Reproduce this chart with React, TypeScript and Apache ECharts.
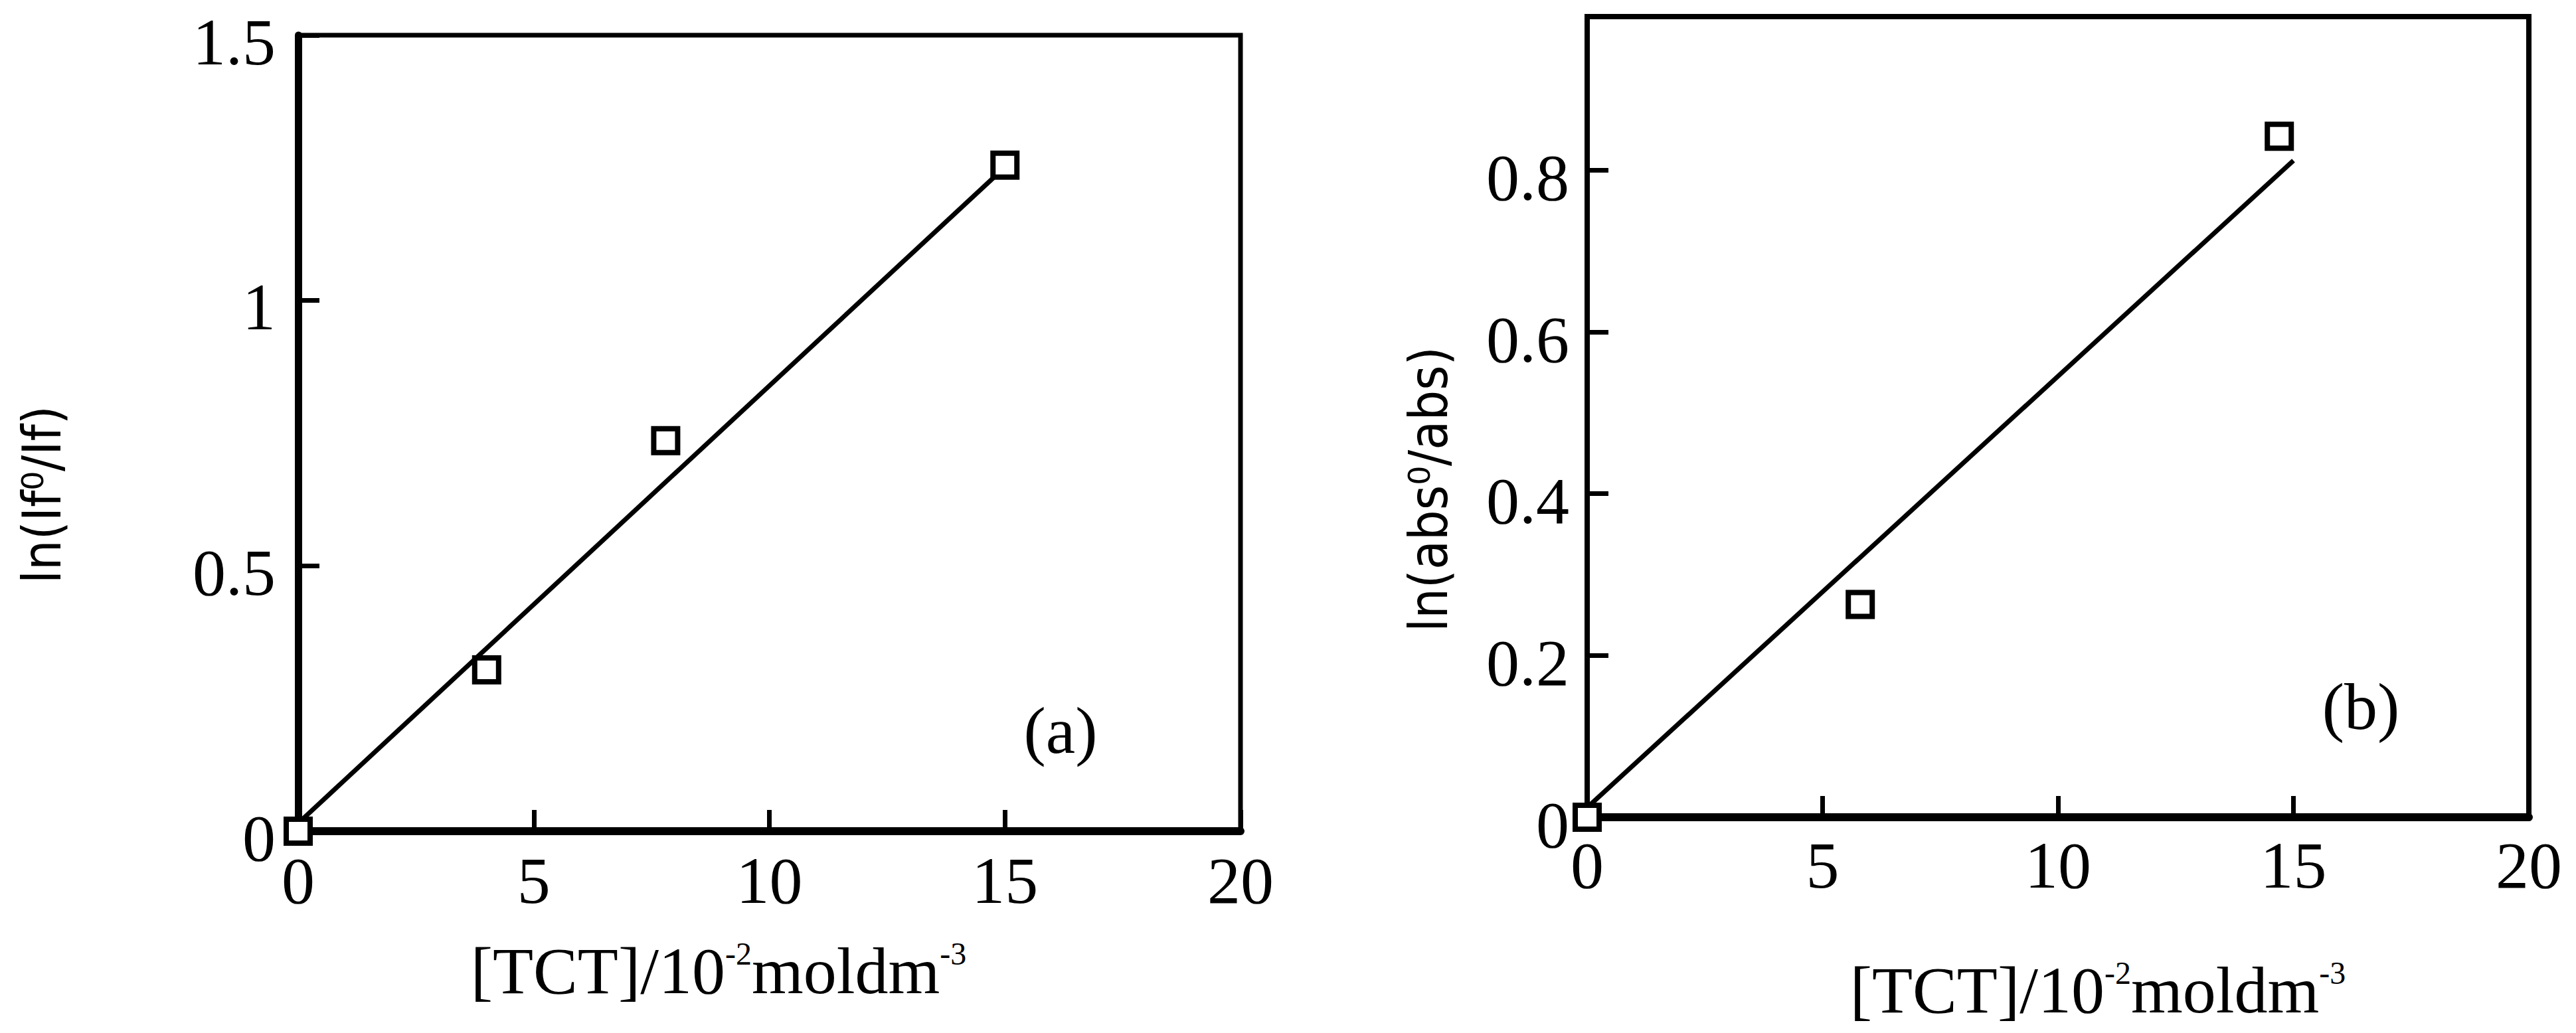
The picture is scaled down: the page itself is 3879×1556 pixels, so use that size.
import React, { useEffect, useRef } from "react";
import * as echarts from "echarts";

// Panel (a)
const aPoints: number[][] = [
  [0, 0],
  [4.0, 0.304],
  [7.8, 0.736],
  [15.0, 1.255],
];
const aFit: number[][] = [
  [0, 0.015],
  [14.8, 1.235],
];
// Panel (b)
const bPoints: number[][] = [
  [0, 0],
  [5.8, 0.263],
  [14.7, 0.842],
];
const bFit: number[][] = [
  [0, 0.012],
  [15.0, 0.812],
];

const xMin = 0;
const xMax = 20;
const xInterval = 5;
const aYMax = 1.5;
const aYInterval = 0.5;
const bYMax = 0.99;
const bYInterval = 0.2;

const aYName = "ln(If⁰/If)";
const bYName = "ln(abs⁰/abs)";
const xNameMain1 = "[TCT]/10";
const xNameSup1 = "-2";
const xNameMain2 = "moldm";
const xNameSup2 = "-3";
const aTag = "(a)";
const bTag = "(b)";

const SERIF = "'Liberation Serif', 'Times New Roman', serif";
const NAMEFONT = "'DejaVu Sans Condensed', 'DejaVu Sans', sans-serif";

export default function App() {
  const ref = useRef<HTMLDivElement>(null);

  useEffect(() => {
    if (!ref.current) return;
    const chart = echarts.init(ref.current, undefined, { renderer: "svg" });

    const xAxisBase = (gridIndex: number, margin: number) => ({
      type: "value",
      gridIndex,
      min: xMin,
      max: xMax,
      interval: xInterval,
      splitLine: { show: false },
      axisLine: { show: true, lineStyle: { color: "#000", width: 12 } },
      axisTick: { show: true, inside: true, length: 32, lineStyle: { color: "#000", width: 7 } },
      axisLabel: {
        margin,
        color: "#000",
        fontSize: 100,
        fontFamily: SERIF,
      },
    });

    const richX = {
      m: { fontSize: 100, fontFamily: SERIF, fill: "#000", color: "#000" },
      s: { fontSize: 48, fontFamily: SERIF, fill: "#000", color: "#000", verticalAlign: "top", padding: [0, 0, 46, 0] },
    };

    const option: any = {
      animation: false,
      backgroundColor: "#fff",
      grid: [
        { left: 449, top: 53, width: 1419, height: 1199, show: true, borderColor: "#000", borderWidth: 7, backgroundColor: "transparent" },
        { left: 2390, top: 25, width: 1418, height: 1206, show: true, borderColor: "#000", borderWidth: 8, backgroundColor: "transparent" },
      ],
      xAxis: [xAxisBase(0, 24), xAxisBase(1, 22)],
      yAxis: [
        {
          type: "value",
          gridIndex: 0,
          min: 0,
          max: aYMax,
          interval: aYInterval,
          splitLine: { show: false },
          axisLine: { show: true, lineStyle: { color: "#000", width: 11 } },
          axisTick: { show: true, inside: true, length: 32, lineStyle: { color: "#000", width: 7 } },
          axisLabel: {
            margin: 34,
            color: "#000",
            fontSize: 100,
            lineHeight: 20,
            verticalAlign: "top",
            fontFamily: SERIF,
          },
        },
        {
          type: "value",
          gridIndex: 1,
          min: 0,
          max: bYMax,
          interval: bYInterval,
          splitLine: { show: false },
          axisLine: { show: true, lineStyle: { color: "#000", width: 8 } },
          axisTick: { show: true, inside: true, length: 32, lineStyle: { color: "#000", width: 7 } },
          axisLabel: {
            margin: 27,
            color: "#000",
            fontSize: 100,
            lineHeight: 22,
            verticalAlign: "top",
            fontFamily: SERIF,
            formatter: (v: number) => (v > 0.9 ? "" : String(Math.round(v * 10) / 10)),
          },
        },
      ],
      series: [
        {
          type: "line",
          xAxisIndex: 0,
          yAxisIndex: 0,
          data: aFit,
          showSymbol: false,
          clip: false,
          lineStyle: { color: "#000", width: 7 },
          z: 3,
        },
        {
          type: "scatter",
          xAxisIndex: 0,
          yAxisIndex: 0,
          data: aPoints,
          symbol: "rect",
          symbolSize: 36,
          clip: false,
          itemStyle: { color: "#fff", borderColor: "#000", borderWidth: 8, opacity: 1 },
          z: 4,
        },
        {
          type: "line",
          xAxisIndex: 1,
          yAxisIndex: 1,
          data: bFit,
          showSymbol: false,
          clip: false,
          lineStyle: { color: "#000", width: 7 },
          z: 3,
        },
        {
          type: "scatter",
          xAxisIndex: 1,
          yAxisIndex: 1,
          data: bPoints,
          symbol: "rect",
          symbolSize: 36,
          clip: false,
          itemStyle: { color: "#fff", borderColor: "#000", borderWidth: 8, opacity: 1 },
          z: 4,
        },
      ],
      graphic: [
        {
          type: "text",
          x: 63,
          y: 745,
          rotation: Math.PI / 2,
          style: { text: aYName, fontSize: 80, fontFamily: NAMEFONT, fill: "#000", align: "center", verticalAlign: "middle" },
        },
        {
          type: "text",
          x: 2151,
          y: 737,
          rotation: Math.PI / 2,
          style: { text: bYName, fontSize: 80, fontFamily: NAMEFONT, fill: "#000", align: "center", verticalAlign: "middle" },
        },
        {
          type: "text",
          x: 1082,
          y: 1462,
          style: {
            text: `{m|${xNameMain1}}{s|${xNameSup1}}{m|${xNameMain2}}{s|${xNameSup2}}`,
            rich: richX,
            fontSize: 100,
            fontFamily: SERIF,
            fill: "#000",
            align: "center",
            verticalAlign: "middle",
          },
        },
        {
          type: "text",
          x: 3159,
          y: 1491,
          style: {
            text: `{m|${xNameMain1}}{s|${xNameSup1}}{m|${xNameMain2}}{s|${xNameSup2}}`,
            rich: richX,
            fontSize: 100,
            fontFamily: SERIF,
            fill: "#000",
            align: "center",
            verticalAlign: "middle",
          },
        },
        {
          type: "text",
          x: 1597,
          y: 1100,
          style: { text: aTag, fontSize: 100, fontFamily: SERIF, fill: "#000", align: "center", verticalAlign: "middle" },
        },
        {
          type: "text",
          x: 3555,
          y: 1064,
          style: { text: bTag, fontSize: 100, fontFamily: SERIF, fill: "#000", align: "center", verticalAlign: "middle" },
        },
      ],
    };

    chart.setOption(option);
    return () => chart.dispose();
  }, []);

  return (
    <div
      ref={ref}
      style={{ position: "absolute", left: 0, top: 0, width: 3879, height: 1556, background: "#fff" }}
    />
  );
}
